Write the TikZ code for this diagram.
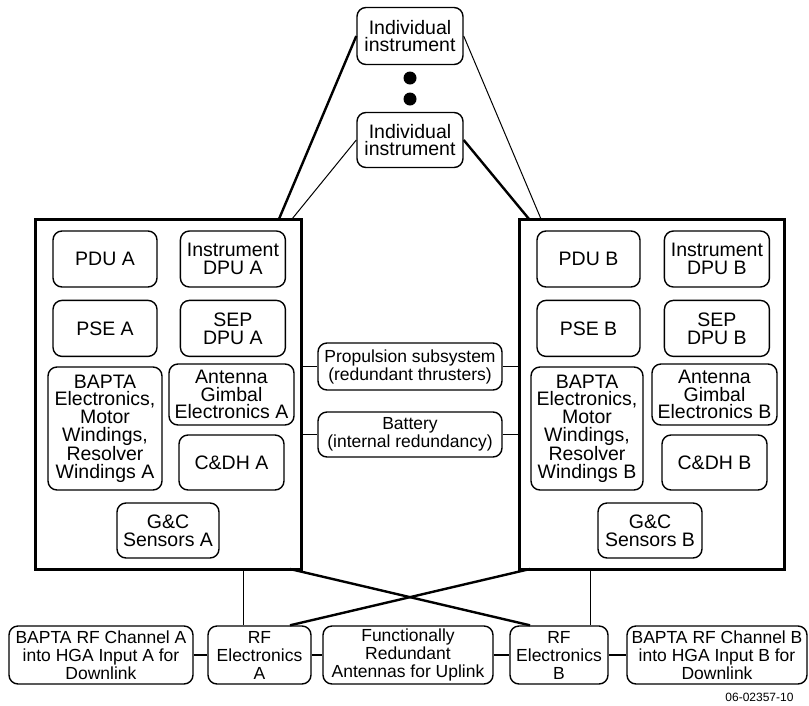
\documentclass[tikz,border=0pt]{standalone}
\usepackage{fontspec}
\setmainfont{Liberation Sans}
\usetikzlibrary{positioning}

\begin{document}
\begin{tikzpicture}[x=1pt,y=-1pt,
    box/.style={draw,line width=1.4pt,rounded corners=9pt,inner sep=1pt,align=center,
                font=\fontsize{19.5}{17.8}\selectfont},
    midbox/.style={box,font=\fontsize{17.5}{18}\selectfont},
    unit/.style={draw,line width=3pt,minimum width=266pt,minimum height=350pt},
    dot/.style={circle,fill,inner sep=0pt,minimum width=13pt},
    thin/.style={line width=1pt},
    wide/.style={line width=2.4pt}]
    \useasboundingbox (0,0) rectangle (809,705);
    % instruments on top
    \node[box,minimum width=106pt,minimum height=57pt] (inst1) at (410,36) {Individual\\instrument};
    \node[dot] (dot1) at (410,78) {};
    \node[dot] (dot2) at (410,99) {};
    \node[box,minimum width=106pt,minimum height=55pt] (inst2) at (410,140) {Individual\\instrument};
    % side A
    \node[unit] (unita) at (168,394) {};
    \node[box,minimum width=104pt,minimum height=56pt] (pdua) at (105,259) {PDU A};
    \node[box,minimum width=105pt,minimum height=56pt,right=22pt of pdua] (idpua) {Instrument\\DPU A};
    \node[box,minimum width=104pt,minimum height=56pt,below=12pt of pdua] (psea) {PSE A};
    \node[box,minimum width=105pt,minimum height=56pt,below=12pt of idpua] (sepa) {SEP\\DPU A};
    \node[box,minimum width=114pt,minimum height=123pt] (baptaa) at (105,428.5) {BAPTA\\Electronics,\\Motor\\Windings,\\Resolver\\Windings A};
    \node[box,minimum width=125pt,minimum height=61pt] (antga) at (231.5,394.5) {Antenna\\Gimbal\\Electronics A};
    \node[box,minimum width=105pt,minimum height=55pt] (cdha) at (231.5,462.5) {C\&DH A};
    \node[box,minimum width=102pt,minimum height=55pt] (gnca) at (168,530.5) {G\&C\\Sensors A};
    % side B
    \node[unit,minimum width=265pt] (unitb) at (651.5,394) {};
    \node[box,minimum width=103pt,minimum height=56pt] (pdub) at (588.5,259) {PDU B};
    \node[box,minimum width=105pt,minimum height=56pt,right=23pt of pdub] (idpub) {Instrument\\DPU B};
    \node[box,minimum width=103pt,minimum height=56pt,below=12pt of pdub] (pseb) {PSE B};
    \node[box,minimum width=105pt,minimum height=56pt,below=12pt of idpub] (sepb) {SEP\\DPU B};
    \node[box,minimum width=112pt,minimum height=123pt] (baptab) at (587,428.5) {BAPTA\\Electronics,\\Motor\\Windings,\\Resolver\\Windings B};
    \node[box,minimum width=125pt,minimum height=61pt] (antgb) at (714.5,394.5) {Antenna\\Gimbal\\Electronics B};
    \node[box,minimum width=105pt,minimum height=55pt] (cdhb) at (714.5,462.5) {C\&DH B};
    \node[box,minimum width=104pt,minimum height=55pt] (gncb) at (650,530.5) {G\&C\\Sensors B};
    % shared in the middle
    \node[midbox,minimum width=184pt,minimum height=47pt] (prop) at (410,366.5) {Propulsion subsystem\\(redundant thrusters)};
    \node[midbox,minimum width=184pt,minimum height=45pt] (batt) at (410,434.5) {Battery\\(internal redundancy)};
    % RF row
    \node[midbox,minimum width=184pt,minimum height=58pt] (rfchana) at (101,655) {BAPTA RF Channel A\\into HGA Input A for\\Downlink};
    \node[midbox,minimum width=103pt,minimum height=58pt] (rfa) at (259.5,655) {RF\\Electronics\\A};
    \node[midbox,minimum width=170pt,minimum height=58pt] (func) at (408,655) {Functionally\\Redundant\\Antennas for Uplink};
    \node[midbox,minimum width=98pt,minimum height=58pt] (rfb) at (559,655) {RF\\Electronics\\B};
    \node[midbox,minimum width=180pt,minimum height=58pt] (rfchanb) at (717,655) {BAPTA RF Channel B\\into HGA Input B for\\Downlink};
    \node[font=\fontsize{12}{12}\selectfont,anchor=east] (code) at (797,697) {06-02357-10};
    % where the lines meet the units
    \coordinate (ta1) at (279,219);
    \coordinate (ta2) at (292,219);
    \coordinate (tb2) at (529,219);
    \coordinate (tb1) at (541,219);
    \coordinate (da) at (243,569);
    \coordinate (db) at (590,569);
    \coordinate (xa) at (290,569);
    \coordinate (xb) at (530,569);
    % connectors
    \draw[wide] (inst1.west) -- (ta1);
    \draw[thin] (inst1.east) -- (tb1);
    \draw[thin] (inst2.west) -- (ta2);
    \draw[wide] (inst2.east) -- (tb2);
    \draw[thin] (unita.east |- prop.west) -- (prop.west);
    \draw[thin] (prop.east) -- (unitb.west |- prop.east);
    \draw[thin] (unita.east |- batt.west) -- (batt.west);
    \draw[thin] (batt.east) -- (unitb.west |- batt.east);
    \draw[thin] (da) -- (da |- rfa.north);
    \draw[thin] (db) -- (db |- rfb.north);
    \draw[wide] (xa) -- (xb |- rfb.north);
    \draw[wide] (xb) -- (xa |- rfa.north);
    \draw[wide] (rfchana) -- (rfa);
    \draw[wide] (rfa) -- (func);
    \draw[wide] (func) -- (rfb);
    \draw[wide] (rfb) -- (rfchanb);
\end{tikzpicture}
\end{document}
